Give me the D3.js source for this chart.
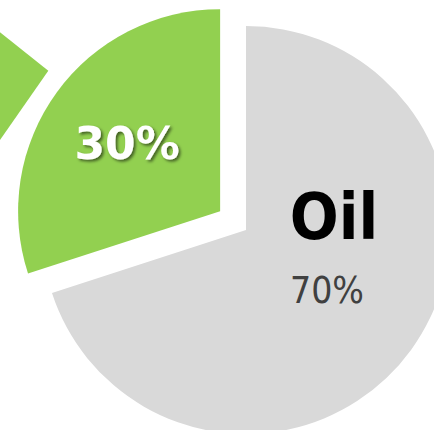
<!DOCTYPE html>
<html>
<head>
<meta charset="utf-8">
<script src="https://cdn.jsdelivr.net/npm/d3@7"></script>
<style>
  html, body { margin: 0; padding: 0; background: #fff; }
  svg { display: block; }
</style>
</head>
<body>
<div id="chart"></div>
<script>
// --- DATA ---
const categories = ["Oil", "Other"];
const values = [70, 30];
const valueLabels = ["70%", "30%"];

// slice of the neighbouring pie that pokes in from the left edge
const neighborValues = [26, 74];

const width = 434;
const height = 430;

const colors = { Oil: "#d9d9d9", Other: "#92d050" };

const svg = d3.select("#chart")
  .append("svg")
  .attr("width", width)
  .attr("height", height);

const defs = svg.append("defs");
defs.append("filter")
  .attr("id", "shadow")
  .attr("x", "-20%").attr("y", "-20%")
  .attr("width", "140%").attr("height", "140%")
  .append("feDropShadow")
  .attr("dx", 2).attr("dy", 2)
  .attr("stdDeviation", 1.4)
  .attr("flood-color", "#000")
  .attr("flood-opacity", 0.55);

const rad = deg => deg * Math.PI / 180;

// --- NEIGHBOUR SLICE ---
const neighborPie = d3.pie().sort(null)
  .startAngle(rad(214.9))
  .endAngle(rad(214.9) + 2 * Math.PI);

svg.append("g")
  .attr("transform", "translate(48.3,70.7)")
  .selectAll("path")
  .data(neighborPie(neighborValues).slice(0, 1))
  .join("path")
  .attr("d", d3.arc().innerRadius(0).outerRadius(160))
  .attr("fill", colors.Other);

// --- MAIN PIE ---
const cx = 246, cy = 230;
const explode = 32;
const radius = { Oil: 204, Other: 202 };

const pie = d3.pie().sort(null);
const arcs = pie(values).map((d, i) => ({ ...d, name: categories[i], label: valueLabels[i] }));

const g = svg.append("g").attr("transform", `translate(${cx},${cy})`);

const slice = g.selectAll("g.slice")
  .data(arcs)
  .join("g")
  .attr("class", "slice")
  .attr("transform", d => {
    if (d.name === "Oil") return null;
    const mid = (d.startAngle + d.endAngle) / 2;
    return `translate(${Math.sin(mid) * explode},${-Math.cos(mid) * explode})`;
  });

slice.append("path")
  .attr("d", d => d3.arc().innerRadius(0).outerRadius(radius[d.name])(d))
  .attr("fill", d => colors[d.name]);

// green slice: white value label with shadow
const labelArc = d3.arc().innerRadius(115).outerRadius(115);
slice.filter(d => d.name === "Other")
  .append("text")
  .attr("transform", d => `translate(${labelArc.centroid(d)})`)
  .attr("text-anchor", "middle")
  .attr("dy", "0.36em")
  .attr("font-family", "DejaVu Sans")
  .attr("font-weight", "bold")
  .attr("font-size", 44)
  .attr("fill", "#fff")
  .attr("filter", "url(#shadow)")
  .text(d => d.label);

// grey slice: category name + value
const oil = slice.filter(d => d.name === "Oil");
oil.append("text")
  .attr("x", 88)
  .attr("y", 9)
  .attr("text-anchor", "middle")
  .attr("font-family", "DejaVu Sans Condensed, DejaVu Sans")
  .attr("font-stretch", "condensed")
  .attr("font-weight", "bold")
  .attr("font-size", 64)
  .attr("fill", "#000")
  .text(d => d.name);

oil.append("text")
  .attr("x", 81)
  .attr("y", 73)
  .attr("text-anchor", "middle")
  .attr("font-family", "DejaVu Sans Condensed, DejaVu Sans")
  .attr("font-stretch", "condensed")
  .attr("font-size", 37)
  .attr("fill", "#404040")
  .text(d => d.label);
</script>
</body>
</html>
